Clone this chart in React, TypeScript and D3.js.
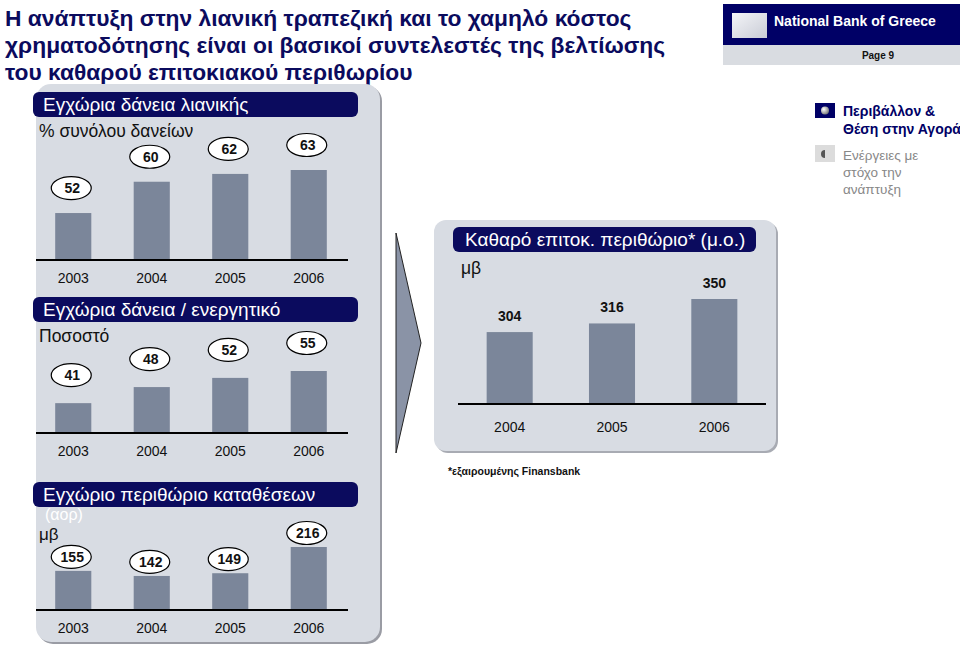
import React from "react";
import * as d3 from "d3";

const years = ["2003", "2004", "2005", "2006"];
const retailShare = [52, 60, 62, 63];
const loansToAssets = [41, 48, 52, 55];
const depositMargin = [155, 142, 149, 216];
const nimYears = ["2004", "2005", "2006"];
const nimValues = [304, 316, 350];

const titleLines = [
  "Η ανάπτυξη στην λιανική τραπεζική και το χαμηλό κόστος",
  "χρηματοδότησης είναι οι βασικοί συντελεστές της βελτίωσης",
  "του καθαρού επιτοκιακού περιθωρίου",
];

const NAVY = "#0b0b5e";
const BAR = "#7b869a";
const PANEL = "#d8dce3";
const FONT = "'Liberation Sans', Arial, sans-serif";

interface MiniProps {
  title: string;
  sub: string;
  values: number[];
  top: number;
  baseline: number;
  domain: [number, number];
  rangeTop: number;
  labelGap: number;
  extra?: string;
}

function MiniChart({ title, sub, values, top, baseline, domain, rangeTop, labelGap, extra }: MiniProps) {
  const x = d3.scaleBand().domain(years).range([34, 348]).paddingInner(0.54).paddingOuter(0.27);
  const y = d3.scaleLinear().domain(domain).range([baseline, rangeTop]);
  return (
    <g>
      <rect x={33} y={top} width={325} height={25} rx={6} fill={NAVY} />
      <text x={43} y={top + 19} fill="#fff" fontSize={19} fontFamily={FONT}>
        {title}
      </text>
      {extra && (
        <text x={45} y={top + 38} fill="#fff" fontSize={16} fontFamily={FONT}>
          {extra}
        </text>
      )}
      <text x={39} y={top + (extra ? 58 : 45)} fill="#111" fontSize={extra ? 17 : 17.5} fontFamily={FONT}>
        {sub}
      </text>
      {values.map((v, i) => {
        const cx = (x(years[i]) as number) + x.bandwidth() / 2;
        const ly = y(v) - labelGap;
        return (
          <g key={i}>
            <rect x={x(years[i])} y={y(v)} width={x.bandwidth()} height={baseline - y(v)} fill={BAR} />
            <ellipse cx={cx - 2} cy={ly} rx={20} ry={11.5} fill="#fff" stroke="#000" strokeWidth={1.2} />
            <text x={cx - 1} y={ly + 5} textAnchor="middle" fontSize={14} fontWeight="bold" fontFamily={FONT} fill="#111">
              {v}
            </text>
            <text x={cx} y={baseline + 23} textAnchor="middle" fontSize={14} fontFamily={FONT} fill="#111">
              {years[i]}
            </text>
          </g>
        );
      })}
      <line x1={36} x2={348} y1={baseline} y2={baseline} stroke="#000" strokeWidth={2} />
    </g>
  );
}

function NimChart() {
  const baseline = 404;
  const x = d3.scaleBand().domain(nimYears).range([458, 766]).paddingInner(0.55).paddingOuter(0.28);
  const y = d3.scaleLinear().domain([204, 350]).range([baseline, 299]);
  return (
    <g>
      <rect x={436} y={222} width={342} height={231} rx={12} fill="#a8abb3" />
      <rect x={434} y={220} width={342} height={231} rx={12} fill={PANEL} />
      <rect x={453} y={227} width={303} height={25} rx={6} fill={NAVY} />
      <text x={465} y={246} fill="#fff" fontSize={19} fontFamily={FONT}>
        Καθαρό επιτοκ. περιθώριο* (μ.ο.)
      </text>
      <text x={461} y={274} fill="#111" fontSize={17.5} fontFamily={FONT}>
        μβ
      </text>
      {nimValues.map((v, i) => {
        const cx = (x(nimYears[i]) as number) + x.bandwidth() / 2;
        return (
          <g key={i}>
            <rect x={x(nimYears[i])} y={y(v)} width={x.bandwidth()} height={baseline - y(v)} fill={BAR} />
            <text x={cx} y={y(v) - 11} textAnchor="middle" fontSize={14} fontWeight="bold" fontFamily={FONT} fill="#111">
              {v}
            </text>
            <text x={cx} y={baseline + 28} textAnchor="middle" fontSize={14} fontFamily={FONT} fill="#111">
              {nimYears[i]}
            </text>
          </g>
        );
      })}
      <line x1={458} x2={766} y1={baseline} y2={baseline} stroke="#000" strokeWidth={2} />
      <text x={448} y={475} fontSize={10.5} fontWeight="bold" fontFamily={FONT} fill="#111">
        *εξαιρουμένης Finansbank
      </text>
    </g>
  );
}

export default function App() {
  return (
    <svg
      width={960}
      height={646}
      style={{ position: "absolute", left: 0, top: 0, background: "#fff" }}
    >
      <defs>
        <linearGradient id="logoGrad" x1="0" y1="0" x2="1" y2="1">
          <stop offset="0" stopColor="#f4f5f8" />
          <stop offset="1" stopColor="#c9ccd6" />
        </linearGradient>
        <radialGradient id="dotGrad" cx="0.35" cy="0.35" r="0.7">
          <stop offset="0" stopColor="#ffffff" />
          <stop offset="1" stopColor="#777" />
        </radialGradient>
      </defs>

      {titleLines.map((t, i) => (
        <text key={i} x={5} y={26 + i * 27} fontSize={22.8} fontWeight="bold" fontFamily={FONT} fill={NAVY}>
          {t}
        </text>
      ))}

      {/* header */}
      <rect x={723} y={4} width={237} height={41} fill="#000066" />
      <rect x={732} y={13} width={35} height={25} fill="url(#logoGrad)" />
      <text x={774} y={26} fill="#fff" fontSize={14} fontWeight="bold" fontFamily={FONT}>
        National Bank of Greece
      </text>
      <rect x={723} y={45} width={237} height={20} fill="#d9dce1" />
      <text x={878} y={59} textAnchor="middle" fontSize={10} fontWeight="bold" fontFamily={FONT} fill="#111">
        Page 9
      </text>

      {/* legend */}
      <rect x={815} y={103} width={20} height={15} fill="#000066" />
      <circle cx={825} cy={110.5} r={4} fill="url(#dotGrad)" />
      <text x={843} y={116} fontSize={14} fontWeight="bold" fontFamily={FONT} fill="#000066">
        Περιβάλλον &amp;
      </text>
      <text x={843} y={134} fontSize={14} fontWeight="bold" fontFamily={FONT} fill="#000066">
        Θέση στην Αγορά
      </text>
      <rect x={815} y={145} width={20} height={17} fill="#dcdcdc" />
      <path d="M825,150 a4,4 0 0,0 0,8 z" fill="#555" />
      {["Ενέργειες με", "στόχο την", "ανάπτυξη"].map((t, i) => (
        <text key={t} x={843} y={160 + i * 17} fontSize={13.5} fontFamily={FONT} fill="#888">
          {t}
        </text>
      ))}

      {/* left panel */}
      <rect x={38} y={86} width={344} height={558} rx={15} fill="#9a9ca4" />
      <rect x={36} y={84} width={344} height={558} rx={15} fill={PANEL} />
      <MiniChart
        title="Εγχώρια δάνεια λιανικής"
        sub="% συνόλου δανείων"
        values={retailShare}
        top={92}
        baseline={260}
        domain={[40, 63]}
        rangeTop={170}
        labelGap={25}
      />
      <MiniChart
        title="Εγχώρια δάνεια / ενεργητικό"
        sub="Ποσοστό"
        values={loansToAssets}
        top={297}
        baseline={433}
        domain={[28, 55]}
        rangeTop={371}
        labelGap={28}
      />
      <MiniChart
        title="Εγχώριο περιθώριο καταθέσεων"
        sub="μβ"
        extra="(αορ)"
        values={depositMargin}
        top={482}
        baseline={610}
        domain={[55, 216]}
        rangeTop={547}
        labelGap={14}
      />

      {/* arrow */}
      <polygon points="396,233 421,343 396,453" fill="#8a93a6" stroke="#222" strokeWidth={1} />

      <NimChart />
    </svg>
  );
}
